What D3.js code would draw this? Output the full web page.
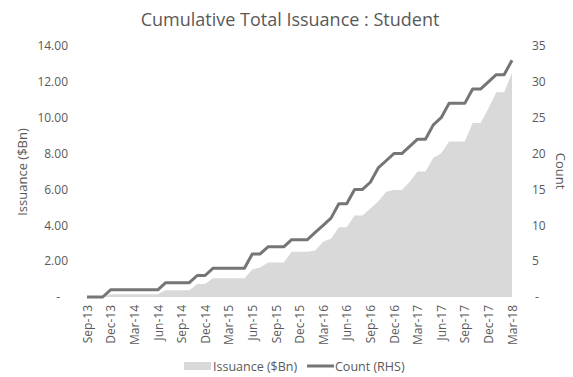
<!DOCTYPE html>
<html>
<head>
<meta charset="utf-8">
<script src="https://cdn.jsdelivr.net/npm/d3@7"></script>
<style>
  html, body { margin: 0; padding: 0; background: #fff; }
  svg text { font-family: "Open Sans", "Noto Sans", sans-serif; fill: #595959; }
</style>
</head>
<body>
<svg id="chart" width="573" height="377"></svg>
<script>
// Monthly observation dates, Sep-13 through Mar-18
const months = [
  "Sep-13","Oct-13","Nov-13","Dec-13","Jan-14","Feb-14","Mar-14","Apr-14","May-14","Jun-14",
  "Jul-14","Aug-14","Sep-14","Oct-14","Nov-14","Dec-14","Jan-15","Feb-15","Mar-15","Apr-15",
  "May-15","Jun-15","Jul-15","Aug-15","Sep-15","Oct-15","Nov-15","Dec-15","Jan-16","Feb-16",
  "Mar-16","Apr-16","May-16","Jun-16","Jul-16","Aug-16","Sep-16","Oct-16","Nov-16","Dec-16",
  "Jan-17","Feb-17","Mar-17","Apr-17","May-17","Jun-17","Jul-17","Aug-17","Sep-17","Oct-17",
  "Nov-17","Dec-17","Jan-18","Feb-18","Mar-18"
];

// Cumulative issuance, $Bn (left axis)
const issuance = [
  0, 0, 0, 0.15, 0.15, 0.15, 0.15, 0.15, 0.15, 0.15,
  0.38, 0.38, 0.38, 0.38, 0.72, 0.72, 1.04, 1.04, 1.04, 1.04,
  1.04, 1.54, 1.65, 1.92, 1.92, 1.92, 2.52, 2.52, 2.52, 2.6,
  3.08, 3.25, 3.89, 3.89, 4.54, 4.54, 4.94, 5.32, 5.87, 5.97,
  5.97, 6.43, 7.0, 7.0, 7.75, 8.02, 8.68, 8.68, 8.68, 9.7,
  9.7, 10.52, 11.42, 11.42, 12.5
];

// Cumulative deal count (right axis)
const counts = [
  0, 0, 0, 1, 1, 1, 1, 1, 1, 1,
  2, 2, 2, 2, 3, 3, 4, 4, 4, 4,
  4, 6, 6, 7, 7, 7, 8, 8, 8, 9,
  10, 11, 13, 13, 15, 15, 16, 18, 19, 20,
  20, 21, 22, 22, 24, 25, 27, 27, 27, 29,
  29, 30, 31, 31, 33
];

// Axis ticks and labels
const leftTicks = [0, 2, 4, 6, 8, 10, 12, 14];
const rightTicks = [0, 5, 10, 15, 20, 25, 30, 35];
const xTickLabels = months.filter((m, i) => i % 3 === 0);

const title = "Cumulative Total Issuance : Student";
const seriesNames = ["Issuance ($Bn)", "Count (RHS)"];

const svg = d3.select("#chart");
const textColor = "#595959";
const areaColor = "#d9d9d9";
const lineColor = "#757575";

const x = d3.scalePoint().domain(months).range([87, 512]);
const yL = d3.scaleLinear().domain([0, 14]).range([297, 46]);
const yR = d3.scaleLinear().domain([0, 35]).range([297, 46]);

// Title
svg.append("text")
  .attr("x", 290).attr("y", 26)
  .attr("text-anchor", "middle")
  .style("font-size", "18px")
  .text(title);

// Issuance area
const area = d3.area()
  .x((d, i) => x(months[i]))
  .y0(yL(0))
  .y1(d => yL(d));
svg.append("path")
  .datum(issuance)
  .attr("d", area)
  .attr("fill", areaColor);

// Count line
const line = d3.line()
  .x((d, i) => x(months[i]))
  .y(d => yR(d));
svg.append("path")
  .datum(counts)
  .attr("d", line)
  .attr("fill", "none")
  .attr("stroke", lineColor)
  .attr("stroke-width", 3)
  .attr("stroke-linejoin", "round");

// Left axis
const leftAxis = d3.axisLeft(yL)
  .tickValues(leftTicks)
  .tickSize(0)
  .tickPadding(0)
  .tickFormat(d => d === 0 ? "-" : d.toFixed(2));
const gL = svg.append("g").attr("transform", "translate(68,0)").call(leftAxis);
gL.select(".domain").remove();
gL.selectAll("text").style("font-size", "12px").attr("fill", textColor)
  .attr("x", d => d === 0 ? -8 : 0);

// Right axis
const rightAxis = d3.axisRight(yR)
  .tickValues(rightTicks)
  .tickSize(0)
  .tickPadding(0)
  .tickFormat(d => d === 0 ? "-" : d);
const gR = svg.append("g").attr("transform", "translate(532,0)").call(rightAxis);
gR.select(".domain").remove();
gR.selectAll("text").style("font-size", "12px").attr("fill", textColor)
  .attr("x", d => d === 0 ? 3 : 0);

// Bottom axis: rotated month labels every quarter
const bottomAxis = d3.axisBottom(x)
  .tickValues(xTickLabels)
  .tickSize(0)
  .tickPadding(0);
const gB = svg.append("g").attr("transform", "translate(0,305)").call(bottomAxis);
gB.select(".domain").remove();
gB.selectAll("text")
  .style("font-size", "12px")
  .attr("fill", textColor)
  .attr("text-anchor", "end")
  .attr("transform", "rotate(-90)")
  .attr("x", 0)
  .attr("y", 0)
  .attr("dx", 0)
  .attr("dy", "0.35em");

// Axis titles
svg.append("text")
  .attr("transform", "translate(27,172) rotate(-90)")
  .attr("text-anchor", "middle")
  .style("font-size", "13px")
  .text("Issuance ($Bn)");
svg.append("text")
  .attr("transform", "translate(556,171) rotate(90)")
  .attr("text-anchor", "middle")
  .style("font-size", "13px")
  .text("Count");

// Legend
const legend = svg.append("g");
legend.append("rect")
  .attr("x", 184).attr("y", 362).attr("width", 27).attr("height", 8)
  .attr("fill", areaColor);
legend.append("text")
  .attr("x", 213).attr("y", 370.5)
  .style("font-size", "12.5px")
  .text(seriesNames[0]);
legend.append("line")
  .attr("x1", 307).attr("x2", 334).attr("y1", 366).attr("y2", 366)
  .attr("stroke", lineColor).attr("stroke-width", 3);
legend.append("text")
  .attr("x", 335).attr("y", 370.5)
  .style("font-size", "12.5px")
  .text(seriesNames[1]);
</script>
</body>
</html>
